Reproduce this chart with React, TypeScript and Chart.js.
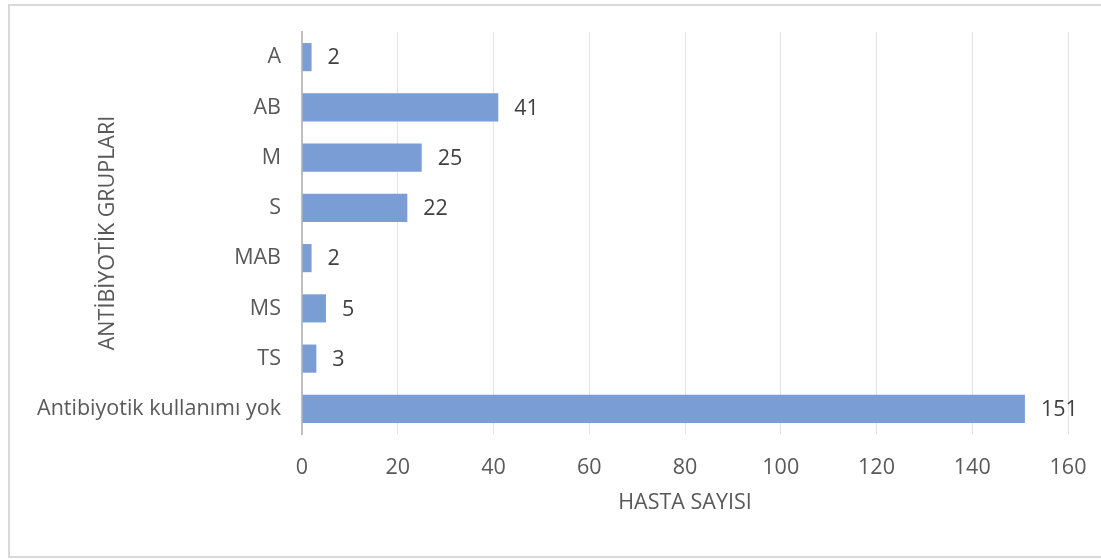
import React, { useEffect, useRef } from "react";
import { Chart, registerables } from "chart.js";

Chart.register(...registerables);

const categories = ["A", "AB", "M", "S", "MAB", "MS", "TS", "Antibiyotik kullanımı yok"];
const patientCounts = [2, 41, 25, 22, 2, 5, 3, 151];
const xTicks = [0, 20, 40, 60, 80, 100, 120, 140, 160];
const xTitle = "HASTA SAYISI";
const yTitle = "ANTİBİYOTİK GRUPLARI";

const FONT = "'Open Sans', sans-serif";
const FS = 21.5;

const valueLabels = {
  id: "valueLabels",
  afterDatasetsDraw(chart: any) {
    const { ctx } = chart;
    const meta = chart.getDatasetMeta(0);
    ctx.save();
    ctx.font = `${FS}px ${FONT}`;
    ctx.fillStyle = "#404040";
    ctx.textAlign = "left";
    ctx.textBaseline = "middle";
    meta.data.forEach((bar: any, i: number) => {
      ctx.fillText(String(patientCounts[i]), bar.x + 16, bar.y + 1);
    });
    ctx.restore();
  },
};

export default function App() {
  const ref = useRef<HTMLCanvasElement>(null);
  useEffect(() => {
    if (!ref.current) return;
    const chart = new Chart(ref.current, {
      type: "bar",
      data: {
        labels: categories,
        datasets: [
          {
            data: patientCounts,
            backgroundColor: "#7a9dd5",
            borderWidth: 0,
            barPercentage: 0.56,
            categoryPercentage: 1,
          },
        ],
      },
      options: {
        indexAxis: "y",
        responsive: false,
        animation: false,
        layout: { padding: { left: 0, right: 33, top: 32, bottom: 0 } },
        plugins: { legend: { display: false }, tooltip: { enabled: false } },
        scales: {
          x: {
            min: 0,
            max: 160,
            afterBuildTicks: (scale: any) => {
              scale.ticks = xTicks.map((v) => ({ value: v }));
            },
            afterFit: (scale: any) => {
              scale.height = 125;
              scale.paddingLeft = 0;
              scale.paddingRight = 0;
            },
            grid: {
              drawTicks: false,
              color: (c: any) => (c.index === 0 ? "rgba(0,0,0,0)" : "#e3e3e3"),
              lineWidth: 1,
            },
            border: { display: false },
            ticks: {
              padding: 21,
              color: "#595959",
              font: { family: FONT, size: FS },
            },
            title: {
              display: true,
              text: xTitle,
              color: "#595959",
              font: { family: FONT, size: FS },
              padding: { top: 0, bottom: 43 },
            },
          },
          y: {
            afterFit: (scale: any) => {
              scale.width = 302;
              scale.paddingTop = 0;
              scale.paddingBottom = 0;
            },
            grid: { display: false, drawTicks: false },
            border: { display: true, color: "#bfbfbf", width: 2 },
            ticks: {
              padding: 21,
              color: "#595959",
              font: { family: FONT, size: FS },
            },
            title: {
              display: true,
              text: yTitle,
              color: "#595959",
              font: { family: FONT, size: FS },
              padding: { top: 95, bottom: 0 },
            },
          },
        },
      },
      plugins: [valueLabels],
    });
    return () => chart.destroy();
  }, []);

  return (
    <div style={{ position: "fixed", left: 0, top: 0, width: 1101, height: 559, background: "#fff", overflow: "hidden" }}>
      <div
        style={{
          position: "absolute",
          left: 8,
          top: 4,
          width: 1100,
          height: 554,
          boxSizing: "border-box",
          border: "2px solid #d9d9d9",
        }}
      />
      <canvas ref={ref} width={1101} height={559} style={{ position: "absolute", left: 0, top: 0 }} />
    </div>
  );
}
